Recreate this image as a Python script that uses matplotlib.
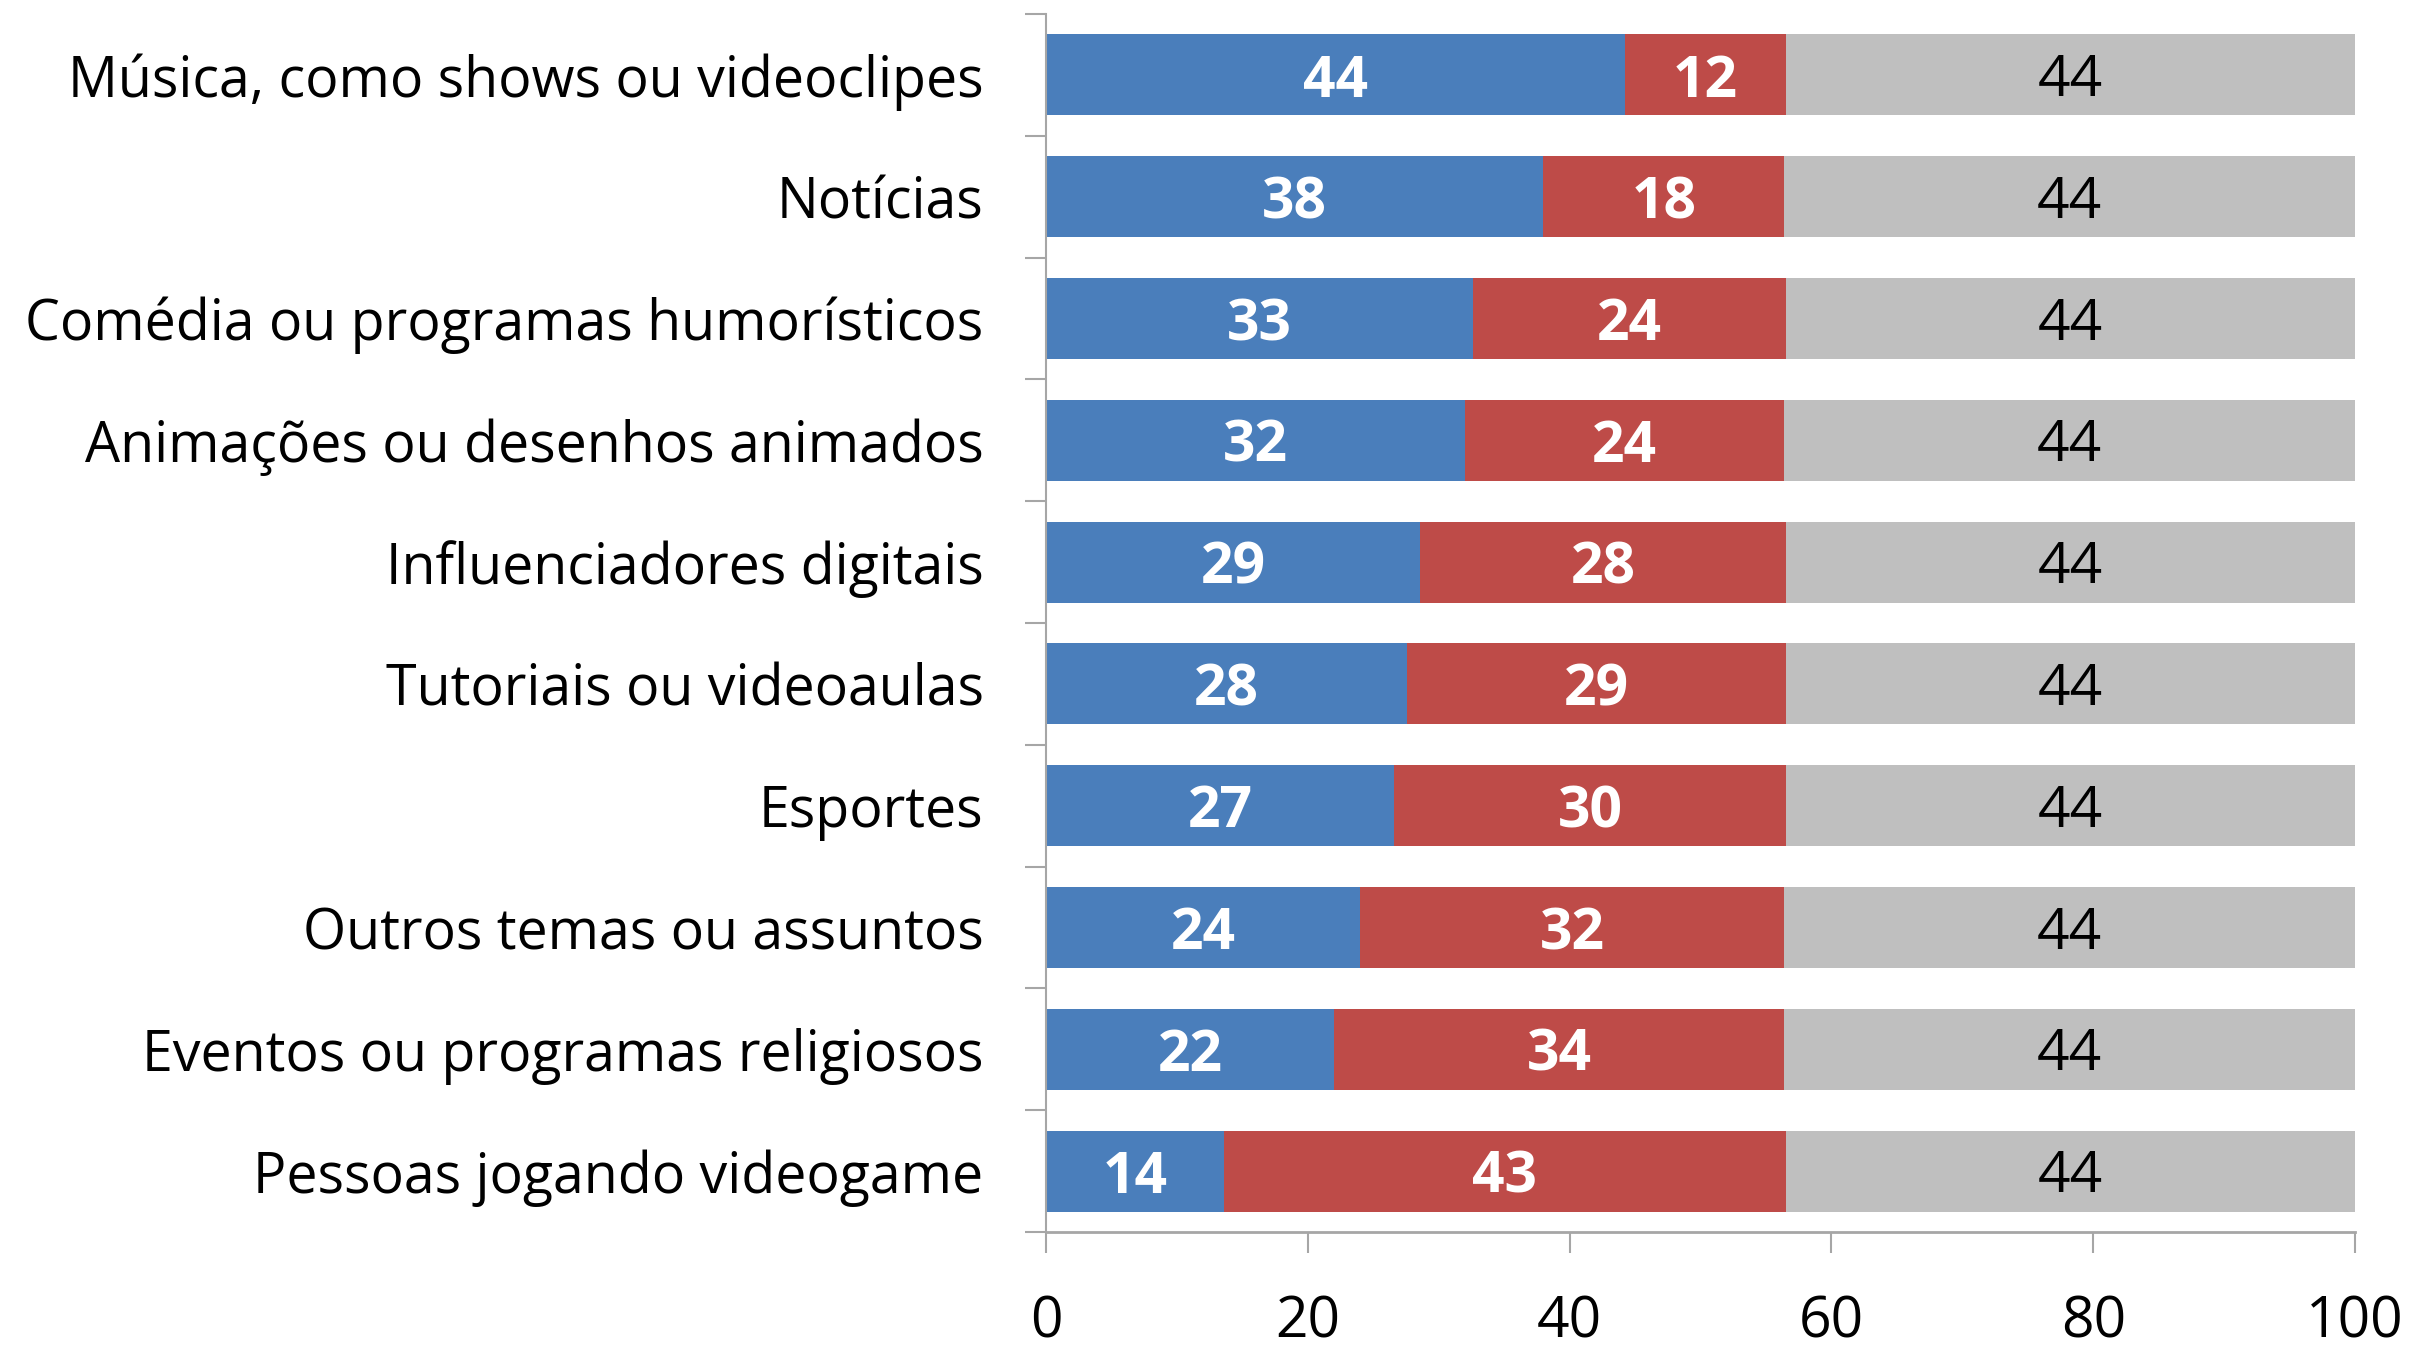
import matplotlib
matplotlib.use("Agg")
import matplotlib.pyplot as plt
import numpy as np

categories = [
    "Música, como shows ou videoclipes",
    "Notícias",
    "Comédia ou programas humorísticos",
    "Animações ou desenhos animados",
    "Influenciadores digitais",
    "Tutoriais ou videoaulas",
    "Esportes",
    "Outros temas ou assuntos",
    "Eventos ou programas religiosos",
    "Pessoas jogando videogame",
]
blue_vals = [44.2, 38.0, 32.6, 32.0, 28.6, 27.6, 26.6, 24.0, 22.0, 13.6]
red_vals = [12.3, 18.4, 23.9, 24.4, 27.9, 28.9, 29.9, 32.4, 34.4, 42.9]
grey_vals = [43.5, 43.6, 43.5, 43.6, 43.5, 43.5, 43.5, 43.6, 43.6, 43.5]
xticks = [0, 20, 40, 60, 80, 100]

BLUE = "#4A7EBB"
RED = "#BE4B48"
GREY = "#BFBFBF"
AXC = "#A6A6A6"

plt.rcParams["font.family"] = ["Open Sans", "DejaVu Sans"]
FS = 41
FS_CAT = 40

fig = plt.figure(figsize=(24.17, 13.60), dpi=100)
ax = fig.add_axes([1046 / 2417, 1 - 1232 / 1360, (2355 - 1046) / 2417, (1232 - 14) / 1360])

y = np.arange(len(categories))
h = 0.665
blue = np.array(blue_vals)
red = np.array(red_vals)
grey = np.array(grey_vals)

ax.barh(y, blue, height=h, color=BLUE, edgecolor="none")
ax.barh(y, red, left=blue, height=h, color=RED, edgecolor="none")
ax.barh(y, grey, left=blue + red, height=h, color=GREY, edgecolor="none")

dy = 0.055
for i in range(len(categories)):
    ax.text(blue[i] / 2, y[i] + dy, f"{blue[i]:.0f}", ha="center", va="center",
            color="white", fontsize=FS, fontweight="bold")
    ax.text(blue[i] + red[i] / 2, y[i] + dy, f"{red[i]:.0f}", ha="center", va="center",
            color="white", fontsize=FS, fontweight="bold")
    ax.text(blue[i] + red[i] + grey[i] / 2, y[i] + dy, f"{grey[i]:.0f}", ha="center",
            va="center", color="black", fontsize=FS)

ax.set_xlim(0, 100)
ax.set_ylim(len(categories) - 0.5, -0.5)

ax.set_yticks(y)
ax.set_yticklabels(categories, fontsize=FS_CAT)
ax.tick_params(axis="y", which="major", length=0, pad=45)
ax.set_yticks(np.arange(len(categories) + 1) - 0.5, minor=True)
ax.tick_params(axis="y", which="minor", length=15, width=1.5, color=AXC, direction="out")

ax.set_xticks(xticks)
ax.set_xticklabels([str(t) for t in xticks], fontsize=FS)
ax.tick_params(axis="x", which="major", length=15, width=1.5, color=AXC, direction="out", pad=30)

for s in ["top", "right"]:
    ax.spines[s].set_visible(False)
ax.spines["left"].set_color(AXC)
ax.spines["left"].set_linewidth(1.5)
ax.spines["bottom"].set_color(AXC)
ax.spines["bottom"].set_linewidth(2.0)

fig.savefig("out.png", dpi=100)
